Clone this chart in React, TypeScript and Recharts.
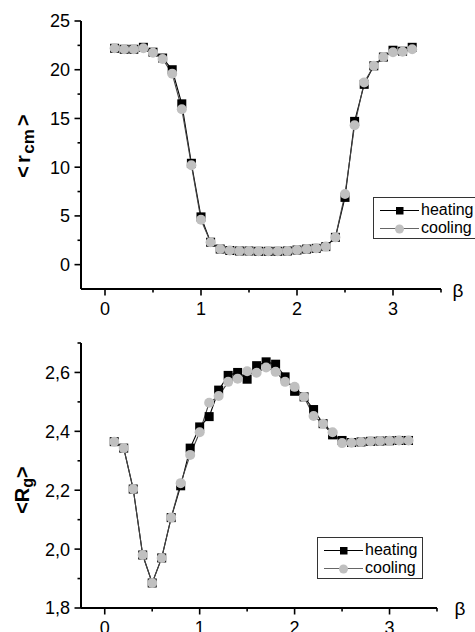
import React from "react";
import { LineChart, Line, XAxis, YAxis } from "recharts";

const betas = [0.1,0.2,0.3,0.4,0.5,0.6,0.7,0.8,0.9,1.0,1.1,1.2,1.3,1.4,1.5,1.6,1.7,1.8,1.9,2.0,2.1,2.2,2.3,2.4,2.5,2.6,2.7,2.8,2.9,3.0,3.1,3.2];

const rcmHeating = [22.2,22.1,22.1,22.3,21.8,21.2,20.0,16.5,10.4,4.9,2.3,1.6,1.45,1.4,1.4,1.37,1.37,1.37,1.4,1.5,1.6,1.67,1.85,2.8,6.9,14.7,18.5,20.4,21.3,22.0,21.9,22.3];
const rcmCooling = [22.2,22.1,22.1,22.2,21.75,21.1,19.6,15.95,10.2,4.6,2.3,1.6,1.45,1.4,1.4,1.37,1.37,1.37,1.4,1.5,1.6,1.67,1.85,2.8,7.25,14.3,18.7,20.4,21.3,21.8,21.85,22.1];

const rgHeating = [2.365,2.343,2.204,1.98,1.885,1.97,2.107,2.215,2.343,2.415,2.45,2.54,2.59,2.6,2.577,2.623,2.636,2.628,2.585,2.536,2.517,2.474,2.426,2.388,2.369,2.362,2.364,2.366,2.367,2.368,2.369,2.369];
const rgCooling = [2.365,2.343,2.204,1.98,1.885,1.97,2.107,2.224,2.32,2.397,2.497,2.52,2.568,2.579,2.604,2.599,2.617,2.602,2.568,2.551,2.517,2.452,2.426,2.397,2.36,2.361,2.364,2.366,2.367,2.368,2.369,2.369];

const xTicks = [0, 0.5, 1, 1.5, 2, 2.5, 3, 3.5];
const rcmTicks = [0, 2.5, 5, 7.5, 10, 12.5, 15, 17.5, 20, 22.5, 25];
const rgTicks = [1.8, 1.9, 2.0, 2.1, 2.2, 2.3, 2.4, 2.5, 2.6, 2.7];
const seriesNames = ["heating", "cooling"];

const rcmData = betas.map((b, i) => ({ b, h: rcmHeating[i], c: rcmCooling[i] }));
const rgData = betas.map((b, i) => ({ b, h: rgHeating[i], c: rgCooling[i] }));

const FONT = "'Liberation Sans', Arial, sans-serif";

const XTick = (props: any) => {
  const { x, y, payload } = props;
  const v = payload.value;
  const major = Math.abs(v - Math.round(v)) < 1e-6;
  return (
    <g>
      <line x1={x} x2={x} y1={y} y2={y + (major ? 6.5 : 3.5)} stroke="#000" strokeWidth={1.6} />
      {major && (
        <text x={x} y={y + 26} textAnchor="middle" fontSize={18} fontFamily={FONT} fill="#000">
          {String(v)}
        </text>
      )}
    </g>
  );
};

const makeYTick = (isMajor: (v: number) => boolean, fmt: (v: number) => string) => (props: any) => {
  const { x, y, payload } = props;
  const v = payload.value;
  const major = isMajor(v);
  return (
    <g>
      <line x1={x} x2={x - (major ? 6.5 : 3.5)} y1={y} y2={y} stroke="#000" strokeWidth={1.6} />
      {major && (
        <text x={x - 11} y={y} dy="0.36em" textAnchor="end" fontSize={18} fontFamily={FONT} fill="#000">
          {fmt(v)}
        </text>
      )}
    </g>
  );
};

const RcmTick = makeYTick((v) => Math.abs(v % 5) < 1e-6, (v) => String(v));
const RgTick = makeYTick((v) => Math.round(v * 10) % 2 === 0, (v) => v.toFixed(1).replace(".", ","));

const SquareDot = (props: any) => {
  const { cx, cy, index } = props;
  if (cx == null || cy == null) return <g key={`s${index}`} />;
  return <rect key={`s${index}`} x={cx - 4.5} y={cy - 4.5} width={9} height={9} fill="#000" />;
};
const CircleDot = (props: any) => {
  const { cx, cy, index } = props;
  if (cx == null || cy == null) return <g key={`c${index}`} />;
  return <circle key={`c${index}`} cx={cx} cy={cy} r={5} fill="#c0c0c0" />;
};

const LegendBox = ({ left, top }: { left: number; top: number }) => (
  <div
    style={{
      position: "absolute",
      left,
      top,
      width: 106,
      height: 42,
      border: "1px solid #333",
      background: "#fff",
      fontFamily: FONT,
      fontSize: 16,
      color: "#000",
      boxSizing: "border-box",
    }}
  >
    {seriesNames.map((name, i) => (
      <div key={name} style={{ position: "absolute", left: 0, top: 3 + i * 18, height: 18, width: 104 }}>
        <svg width={46} height={18} style={{ position: "absolute", left: 0, top: 0 }}>
          <line x1={6} x2={45} y1={9.5} y2={9.5} stroke={i === 0 ? "#000" : "#666"} strokeWidth={1.2} />
          {i === 0 ? (
            <rect x={22} y={6} width={7.5} height={7.5} fill="#000" />
          ) : (
            <circle cx={25.5} cy={10} r={4.5} fill="#c0c0c0" />
          )}
        </svg>
        <span style={{ position: "absolute", left: 47, top: 0, lineHeight: "18px" }}>{name}</span>
      </div>
    ))}
  </div>
);

const Title = ({ x, y, main, sub, size, subSize, gap }: { x: number; y: number; main: string; sub: string; size: number; subSize: number; gap: number }) => (
  <text
    transform={`rotate(-90, ${x}, ${y})`}
    x={x}
    y={y}
    textAnchor="middle"
    fontFamily={FONT}
    fontWeight="bold"
    fontSize={size}
    fill="#000"
  >
    {"<"}
    <tspan dx={gap}>{main}</tspan>
    <tspan dx={gap / 2} dy={4} fontSize={subSize}>{sub}</tspan>
    <tspan dx={gap} dy={-4}>{">"}</tspan>
  </text>
);

export default function App() {
  return (
    <div
      style={{
        position: "absolute",
        left: 0,
        top: 0,
        width: 475,
        height: 632,
        overflow: "hidden",
        background: "#fff",
      }}
    >
      <div style={{ position: "absolute", left: 0, top: 0, width: 475, height: 320 }}>
        <LineChart width={475} height={320} data={rcmData} margin={{ top: 21, right: 34, bottom: 1, left: 21 }}>
          <XAxis
            dataKey="b"
            type="number"
            domain={[-0.25, 3.5]}
            allowDataOverflow
            ticks={xTicks}
            interval={0}
            tick={<XTick />}
            tickSize={0}
            tickMargin={0}
            tickLine={false}
            axisLine={{ stroke: "#000", strokeWidth: 2 }}
            height={30}
          />
          <YAxis
            type="number"
            domain={[-2.5, 25]}
            allowDataOverflow
            ticks={rcmTicks}
            interval={0}
            tick={<RcmTick />}
            tickSize={0}
            tickMargin={0}
            tickLine={false}
            axisLine={{ stroke: "#000", strokeWidth: 2 }}
            width={60}
          />
          <Line dataKey="h" stroke="#000" strokeWidth={1.1} dot={<SquareDot />} activeDot={false} isAnimationActive={false} />
          <Line dataKey="c" stroke="#444" strokeWidth={1.1} dot={<CircleDot />} activeDot={false} isAnimationActive={false} />
        </LineChart>
        <svg width={475} height={320} style={{ position: "absolute", left: 0, top: 0, pointerEvents: "none" }}>
          <Title x={30} y={146} main="r" sub="cm" size={20} subSize={17} gap={3} />
          <text x={458} y={297} textAnchor="middle" fontFamily={FONT} fontSize={19} fill="#000">β</text>
        </svg>
        <LegendBox left={373} top={197} />
      </div>
      <div style={{ position: "absolute", left: 0, top: 320, width: 475, height: 312 }}>
        <LineChart width={475} height={312} data={rgData} margin={{ top: 23, right: 38, bottom: 0, left: 21 }}>
          <XAxis
            dataKey="b"
            type="number"
            domain={[-0.25, 3.5]}
            allowDataOverflow
            ticks={xTicks}
            interval={0}
            tick={<XTick />}
            tickSize={0}
            tickMargin={0}
            tickLine={false}
            axisLine={{ stroke: "#000", strokeWidth: 2 }}
            height={24}
          />
          <YAxis
            type="number"
            domain={[1.8, 2.7]}
            allowDataOverflow
            ticks={rgTicks}
            interval={0}
            tick={<RgTick />}
            tickSize={0}
            tickMargin={0}
            tickLine={false}
            axisLine={{ stroke: "#000", strokeWidth: 2 }}
            width={60}
          />
          <Line dataKey="h" stroke="#000" strokeWidth={1.1} dot={<SquareDot />} activeDot={false} isAnimationActive={false} />
          <Line dataKey="c" stroke="#444" strokeWidth={1.1} dot={<CircleDot />} activeDot={false} isAnimationActive={false} />
        </LineChart>
        <svg width={475} height={312} style={{ position: "absolute", left: 0, top: 0, pointerEvents: "none" }}>
          <Title x={29} y={170} main="R" sub="g" size={20} subSize={16} gap={0} />
          <text x={460} y={295} textAnchor="middle" fontFamily={FONT} fontSize={19} fill="#000">β</text>
        </svg>
        <LegendBox left={317} top={217} />
      </div>
    </div>
  );
}
